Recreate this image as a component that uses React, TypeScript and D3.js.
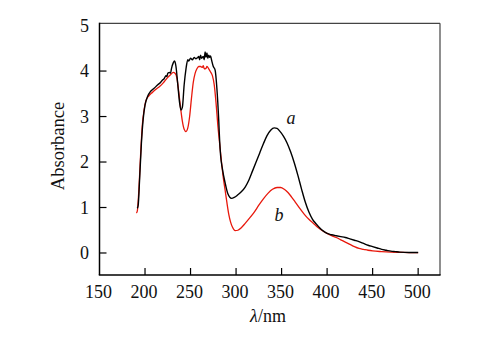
import React from "react";
import * as d3 from "d3";

const xTicks = [150, 200, 250, 300, 350, 400, 450, 500];
const yTicks = [0, 1, 2, 3, 4, 5];

const waveA = [191.5,192.5,194,196,198,200,203,206,210,214,217,219,221,223,224,225,227,228,229,231,232.5,234,236,238,239.5,241,243,245,247,248,250,252,254,256,258,259,260,261,262,264,265,266,267,268,269,270,271,272,273,275,277,279,281,282,283,285,288,291,295,298,302,306,310,314,318,322,326,330,334,338,342,345,348,352,356,360,364,368,372,376,380,384,388,392,396,400,405,410,415,420,425,430,435,440,445,450,455,460,465,470,475,480,490,500];
const absA = [0.98,1.05,1.6,2.4,2.95,3.25,3.45,3.55,3.62,3.7,3.75,3.8,3.83,3.9,3.88,3.95,3.97,3.95,4.05,4.18,4.22,4.1,3.7,3.3,3.14,3.2,3.7,4.05,4.25,4.22,4.28,4.25,4.3,4.27,4.3,4.32,4.25,4.35,4.28,4.32,4.25,4.42,4.3,4.4,4.28,4.35,4.3,4.33,4.25,4.1,4.02,3.6,2.9,2.45,2.15,1.85,1.54,1.3,1.2,1.22,1.28,1.35,1.45,1.6,1.8,2.0,2.2,2.4,2.58,2.7,2.75,2.74,2.68,2.57,2.42,2.22,1.98,1.7,1.4,1.12,0.9,0.74,0.64,0.55,0.48,0.43,0.4,0.38,0.36,0.34,0.31,0.28,0.25,0.21,0.17,0.14,0.11,0.08,0.06,0.04,0.03,0.02,0.01,0.01];

const waveB = [190.5,191.5,193,195,197,199,201,204,208,212,216,220,224,228,231,233,235,237,239,241,243,245,247,249,251,253,255,257,259,261,263,264,265,267,268,270,272,274,276,278,280,282,284,286,288,290,292,294,296,299,302,306,310,315,320,325,330,335,340,345,349,353,357,361,365,370,375,380,385,390,395,400,405,410,415,420,425,430,435,440,445,450,460,470,480,490,500];
const absB = [0.88,0.92,1.3,2.1,2.8,3.15,3.35,3.45,3.53,3.6,3.66,3.74,3.84,3.92,3.97,3.95,3.85,3.55,3.2,2.9,2.72,2.67,2.75,3.0,3.4,3.75,3.95,4.05,4.1,4.1,4.08,4.12,4.05,4.06,4.1,4.05,3.98,3.9,3.7,3.3,2.8,2.4,2.0,1.65,1.38,1.1,0.85,0.68,0.57,0.49,0.5,0.56,0.65,0.77,0.9,1.05,1.19,1.31,1.4,1.44,1.44,1.4,1.33,1.23,1.12,0.98,0.85,0.74,0.65,0.56,0.49,0.43,0.38,0.34,0.29,0.24,0.19,0.14,0.1,0.08,0.06,0.045,0.03,0.02,0.015,0.01,0.01];

const serif = "'Liberation Serif', 'Times New Roman', serif";

export default function App() {
  const left = 99.5, right = 440, top = 23.3, bottom = 275;
  const x = d3.scaleLinear().domain([150, 524]).range([left, right]);
  const y = d3.scaleLinear().domain([-0.484, 5.05]).range([bottom, top]);
  const line = d3
    .line<[number, number]>()
    .x((d) => x(d[0]))
    .y((d) => y(d[1]))
    .curve(d3.curveMonotoneX);
  const dataA = waveA.map((w, i) => [w, absA[i]] as [number, number]);
  const dataB = waveB.map((w, i) => [w, absB[i]] as [number, number]);

  return (
    <svg
      width={494}
      height={343}
      style={{ position: "absolute", left: 0, top: 0, background: "#fff" }}
      fontFamily={serif}
    >
      <rect x={0} y={0} width={494} height={343} fill="#fff" />
      {/* frame */}
      <line x1={left} y1={top} x2={right} y2={top} stroke="#444" strokeWidth={1.2} />
      <line x1={right} y1={top} x2={right} y2={bottom} stroke="#444" strokeWidth={1.2} />
      <line x1={left} y1={top - 0.6} x2={left} y2={bottom} stroke="#000" strokeWidth={1.5} />
      <line x1={left - 0.7} y1={bottom} x2={right + 0.6} y2={bottom} stroke="#000" strokeWidth={1.5} />
      {/* x ticks */}
      {xTicks.map((t) => (
        <g key={"x" + t}>
          {t !== 150 && (
            <line x1={x(t)} x2={x(t)} y1={bottom} y2={bottom - 7} stroke="#000" strokeWidth={1.2} />
          )}
          <text x={x(t) - 1} y={298} textAnchor="middle" fontSize={18} fill="#111">
            {t}
          </text>
        </g>
      ))}
      {/* y ticks */}
      {yTicks.map((t) => (
        <g key={"y" + t}>
          {t !== 5 && (
            <line x1={left} x2={left + 7} y1={y(t)} y2={y(t)} stroke="#000" strokeWidth={1.2} />
          )}
          <text x={89} y={y(t) + 6} textAnchor="end" fontSize={18} fill="#111">
            {t}
          </text>
        </g>
      ))}
      {/* curves */}
      <path d={line(dataB) || ""} fill="none" stroke="#e8180c" strokeWidth={1.3} />
      <path d={line(dataA) || ""} fill="none" stroke="#000" strokeWidth={1.4} />
      {/* curve labels */}
      <text x={291} y={124} textAnchor="middle" fontSize={18} fontStyle="italic" fill="#111">
        a
      </text>
      <text x={279} y={221} textAnchor="middle" fontSize={18} fontStyle="italic" fill="#111">
        b
      </text>
      {/* axis titles */}
      <text x={268} y={322} textAnchor="middle" fontSize={18} fill="#111">
        <tspan fontStyle="italic">λ</tspan>/nm
      </text>
      <text
        transform={`translate(63.5, 146) rotate(-90)`}
        textAnchor="middle"
        fontSize={18.5}
        fill="#111"
      >
        Absorbance
      </text>
    </svg>
  );
}
